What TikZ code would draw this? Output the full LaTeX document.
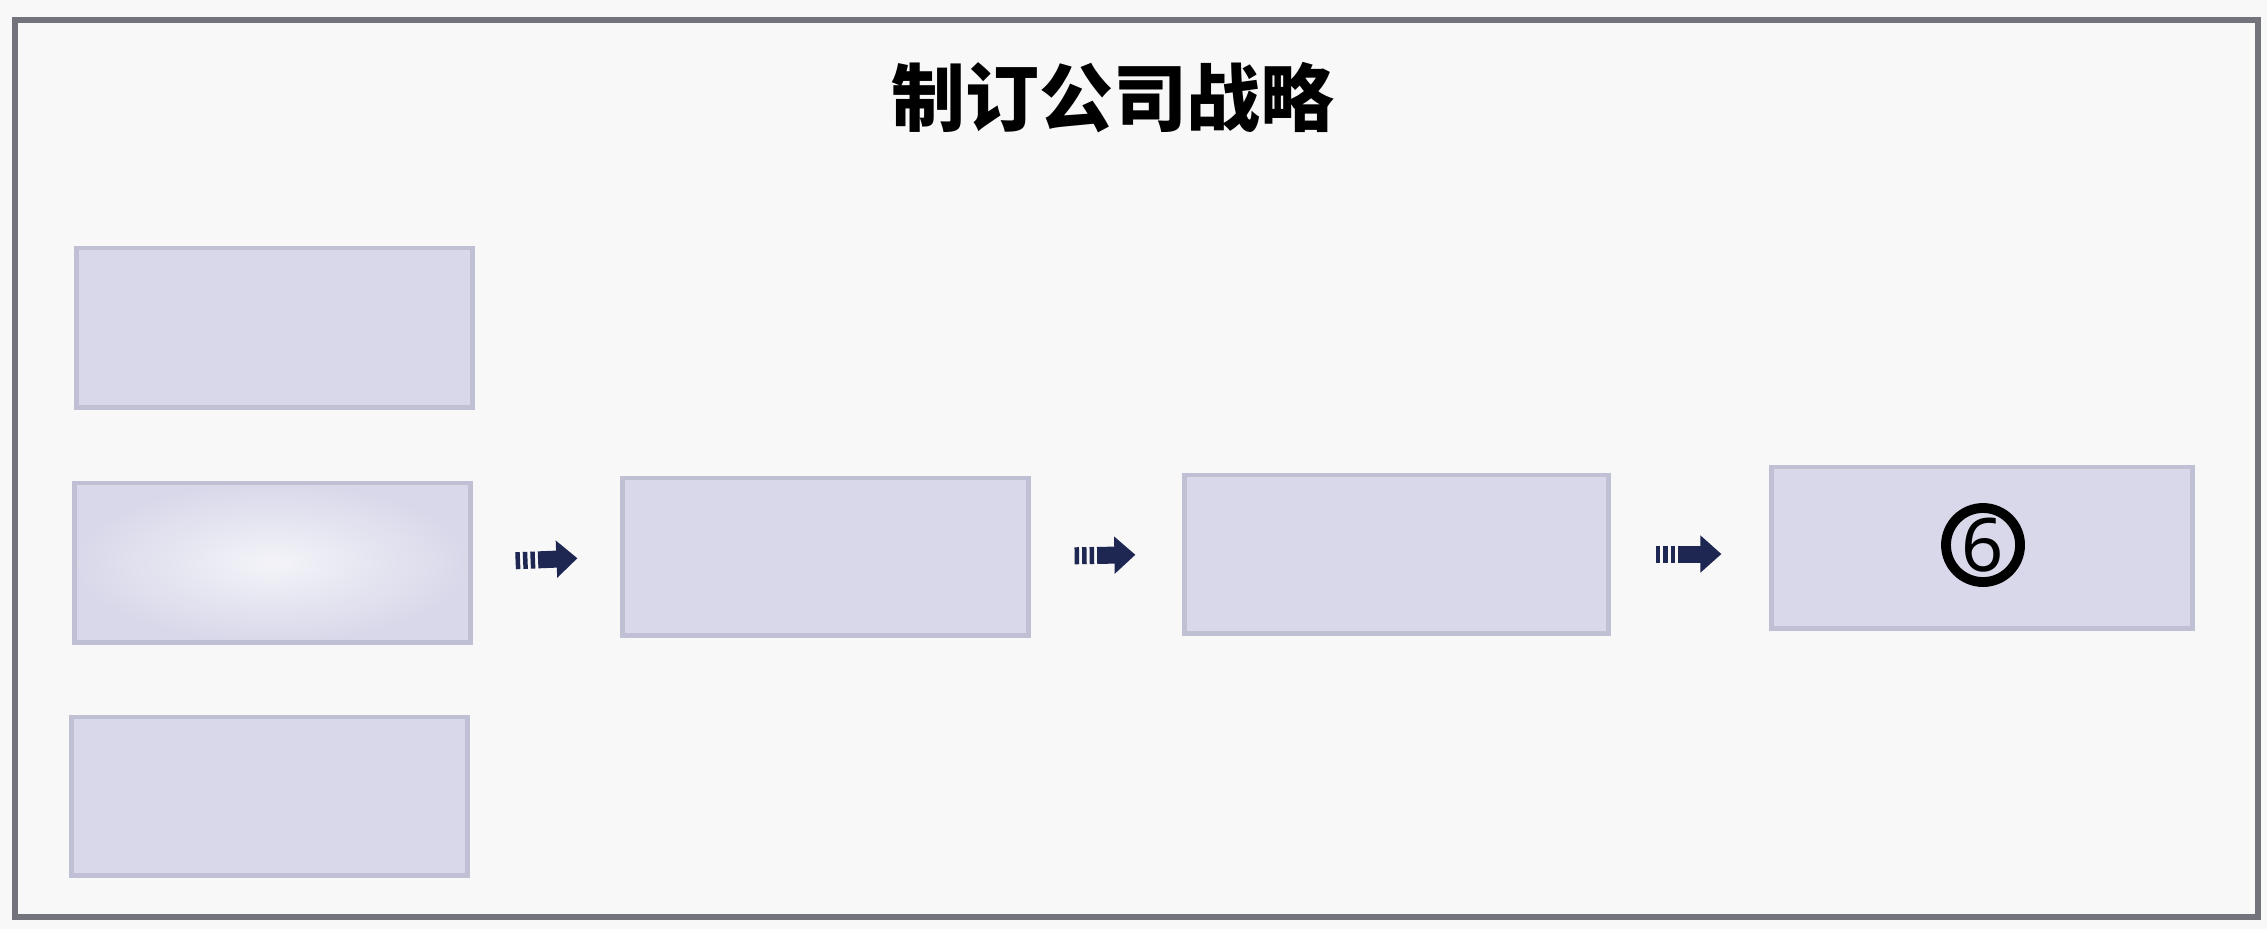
\documentclass[tikz,border=0pt]{standalone}
\usepackage{fontspec}
\newfontfamily\cjk{Noto Sans CJK SC}
\setsansfont{Noto Sans}
\usetikzlibrary{arrows.meta,shadings}
\definecolor{paper}{RGB}{248,248,248}
\definecolor{frame}{RGB}{115,115,124}
\definecolor{boxfill}{RGB}{216,216,234}
\definecolor{boxedge}{RGB}{192,192,212}
\definecolor{navy}{RGB}{30,38,82}
\tikzset{
  stepbox/.style={draw=boxedge, line width=1.4pt, fill=boxfill, inner sep=0pt},
  flowarrow/.style={draw=navy, line width=0.17cm,
    dash pattern=on 0.045cm off 0.03cm on 0.045cm off 0.03cm on 0.045cm off 0.03cm on 2cm,
    -{Triangle[length=0.21cm,width=0.36cm]}},
}
\begin{document}
\begin{tikzpicture}[x=0.01cm,y=-0.01cm]
\useasboundingbox[fill=paper] (0,0) rectangle (2267,929);
\draw[frame, line width=1.6pt] (15,20) rectangle (2258,917);
\node[font=\cjk\bfseries\fontsize{21pt}{25pt}\selectfont, text=black] (title) at (1113,98) {制订公司战略};
% boxes
\node[stepbox, minimum width=3.95cm, minimum height=1.59cm] (a1) at (274.5,327.5) {};
\node[stepbox, minimum width=3.95cm, minimum height=1.59cm, inner color=white!70!boxfill, outer color=boxfill] (a2) at (272.5,562.5) {};
\node[stepbox, minimum width=3.95cm, minimum height=1.58cm] (a3) at (269.5,796) {};
\node[stepbox, minimum width=4.05cm, minimum height=1.57cm] (b) at (825.5,556.5) {};
\node[stepbox, minimum width=4.23cm, minimum height=1.58cm] (c) at (1396.5,554) {};
\node[stepbox, minimum width=4.20cm, minimum height=1.61cm] (d) at (1982,547.5) {};
\node[draw=black, circle, line width=2.8pt, minimum size=0.74cm, inner sep=0pt,
      font=\sffamily\fontsize{21pt}{22pt}\selectfont] (six) at (1983,545) {6};
% arrows
\draw[flowarrow, shorten <=0.43cm, shorten >=0.43cm] (a2.east) -- (b.west);
\draw[flowarrow, shorten <=0.44cm, shorten >=0.47cm] (b.east) -- (c.west);
\draw[flowarrow, shorten <=0.45cm, shorten >=0.48cm] (c.east) -- (c.east -| d.west);
\end{tikzpicture}
\end{document}
